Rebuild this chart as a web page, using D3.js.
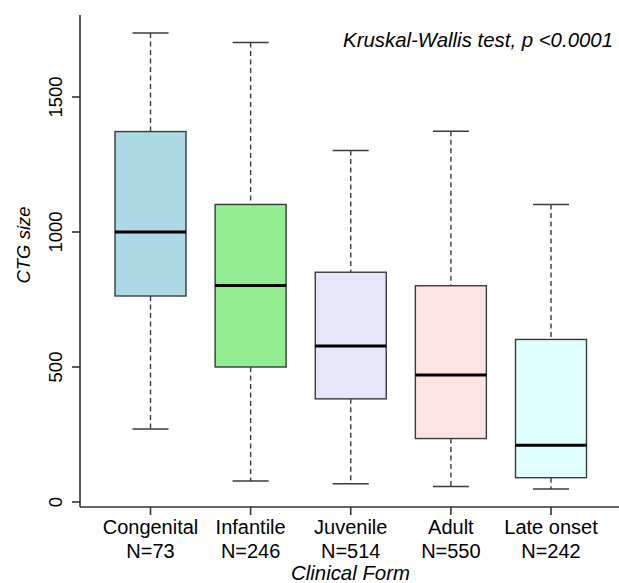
<!DOCTYPE html>
<html>
<head>
<meta charset="utf-8">
<script src="https://cdn.jsdelivr.net/npm/d3@7"></script>
<style>
  html, body { margin: 0; padding: 0; background: #fff; }
  svg { display: block; }
  text { font-family: "Liberation Sans", Arial, sans-serif; fill: #000; }
</style>
</head>
<body>
<svg id="chart" width="619" height="583"></svg>
<script>
// ---- data ----
const categories = ["Congenital", "Infantile", "Juvenile", "Adult", "Late onset"];
const counts = ["N=73", "N=246", "N=514", "N=550", "N=242"];
const whiskerLow = [270, 78, 68, 57, 48];
const q1 = [763, 500, 382, 235, 90];
const medians = [1000, 802, 578, 470, 210];
const q3 = [1372, 1102, 851, 801, 602];
const whiskerHigh = [1737, 1702, 1302, 1373, 1102];
const fills = ["#ADD8E6", "#90EE90", "#E6E6FA", "#FFE4E1", "#E0FFFF"];
const yTicks = [0, 500, 1000, 1500];
const title = "Kruskal-Wallis test, p <0.0001";
const xTitle = "Clinical Form";
const yTitle = "CTG size";

// ---- layout ----
const svg = d3.select("#chart");
const W = 619, H = 583;
const axisX = 80, axisY = 507;

const y = d3.scaleLinear().domain([0, 1500]).range([502, 97]);
const x = d3.scalePoint().domain(categories).range([150.5, 551]);
const boxW = 71, capW = 36;

const data = categories.map((c, i) => ({
  cat: c, n: counts[i], lo: whiskerLow[i], q1: q1[i], med: medians[i],
  q3: q3[i], hi: whiskerHigh[i], fill: fills[i]
}));

// axes lines
svg.append("line").attr("x1", axisX).attr("x2", axisX)
  .attr("y1", 15).attr("y2", axisY)
  .attr("stroke", "#333").attr("stroke-width", 1.6);
svg.append("line").attr("x1", axisX).attr("x2", W)
  .attr("y1", axisY).attr("y2", axisY)
  .attr("stroke", "#333").attr("stroke-width", 1.6);

// y ticks
const yg = svg.append("g");
yg.selectAll("line.tick").data(yTicks).join("line")
  .attr("x1", axisX - 8).attr("x2", axisX)
  .attr("y1", d => y(d)).attr("y2", d => y(d))
  .attr("stroke", "#333").attr("stroke-width", 1.6);
yg.selectAll("text").data(yTicks).join("text")
  .attr("transform", d => `translate(62,${y(d)}) rotate(-90)`)
  .attr("text-anchor", "middle")
  .style("font-size", "18.5px")
  .text(d => d);

// x ticks
const xg = svg.append("g");
xg.selectAll("line").data(categories).join("line")
  .attr("x1", d => x(d)).attr("x2", d => x(d))
  .attr("y1", axisY).attr("y2", axisY + 8)
  .attr("stroke", "#333").attr("stroke-width", 1.6);
xg.selectAll("text.cat").data(data).join("text").attr("class", "cat")
  .attr("x", d => x(d.cat)).attr("y", 533.5)
  .attr("text-anchor", "middle").style("font-size", "20px")
  .text(d => d.cat);
xg.selectAll("text.n").data(data).join("text").attr("class", "n")
  .attr("x", d => x(d.cat)).attr("y", 557.5)
  .attr("text-anchor", "middle").style("font-size", "20px")
  .text(d => d.n);

// boxes
const g = svg.append("g");
const bx = g.selectAll("g.box").data(data).join("g").attr("class", "box");
// whiskers (dashed)
bx.append("line")
  .attr("x1", d => x(d.cat)).attr("x2", d => x(d.cat))
  .attr("y1", d => y(d.hi)).attr("y2", d => y(d.q3))
  .attr("stroke", "#3a3a3a").attr("stroke-width", 1.4).attr("stroke-dasharray", "5,3.5");
bx.append("line")
  .attr("x1", d => x(d.cat)).attr("x2", d => x(d.cat))
  .attr("y1", d => y(d.q1)).attr("y2", d => y(d.lo))
  .attr("stroke", "#3a3a3a").attr("stroke-width", 1.4).attr("stroke-dasharray", "5,3.5");
// caps
bx.append("line")
  .attr("x1", d => x(d.cat) - capW / 2).attr("x2", d => x(d.cat) + capW / 2)
  .attr("y1", d => y(d.hi)).attr("y2", d => y(d.hi))
  .attr("stroke", "#3a3a3a").attr("stroke-width", 1.5);
bx.append("line")
  .attr("x1", d => x(d.cat) - capW / 2).attr("x2", d => x(d.cat) + capW / 2)
  .attr("y1", d => y(d.lo)).attr("y2", d => y(d.lo))
  .attr("stroke", "#3a3a3a").attr("stroke-width", 1.5);
// box
bx.append("rect")
  .attr("x", d => x(d.cat) - boxW / 2).attr("width", boxW)
  .attr("y", d => y(d.q3)).attr("height", d => y(d.q1) - y(d.q3))
  .attr("fill", d => d.fill).attr("stroke", "#3a3a3a").attr("stroke-width", 1.4);
// median
bx.append("line")
  .attr("x1", d => x(d.cat) - boxW / 2).attr("x2", d => x(d.cat) + boxW / 2)
  .attr("y1", d => y(d.med)).attr("y2", d => y(d.med))
  .attr("stroke", "#000").attr("stroke-width", 3);

// titles
svg.append("text").attr("x", 613).attr("y", 46.5)
  .attr("text-anchor", "end").style("font-size", "20.4px").style("font-style", "italic")
  .text(title);
svg.append("text").attr("x", 350.5).attr("y", 580)
  .attr("text-anchor", "middle").style("font-size", "20.4px").style("font-style", "italic")
  .text(xTitle);
svg.append("text").attr("transform", "translate(30,245) rotate(-90)")
  .attr("text-anchor", "middle").style("font-size", "18.5px").style("font-style", "italic")
  .text(yTitle);
</script>
</body>
</html>
